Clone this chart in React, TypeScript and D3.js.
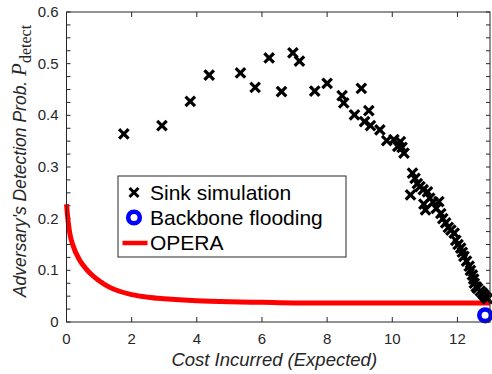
import React from 'react';
import { scaleLinear, line, curveMonotoneX, range } from 'd3';

// sink simulation points (cost, prob)
const sinkCost = [
  1.76, 2.93, 3.80, 4.38, 5.34, 5.79, 6.22, 6.60, 6.95, 7.15, 7.62, 8.00, 8.46, 8.51,
  9.05, 8.84, 9.28, 9.15, 9.33, 9.62, 9.83, 10.05, 10.25, 10.17, 10.36, 10.30,
  10.62, 10.70, 10.77, 10.56, 10.85, 10.95, 11.08, 10.97, 11.02, 11.15, 11.25, 11.43,
  11.35, 11.49, 11.55, 11.64, 11.72, 11.80, 11.90, 11.95, 12.02, 12.10, 12.15, 12.20,
  12.28, 12.36, 12.40, 12.46, 12.50, 12.52, 12.58, 12.62, 12.70, 12.77, 12.82, 12.87, 12.92,
];
const sinkProb = [
  0.364, 0.380, 0.427, 0.478, 0.482, 0.454, 0.511, 0.446, 0.521, 0.505, 0.447, 0.462, 0.438, 0.424,
  0.452, 0.401, 0.409, 0.388, 0.380, 0.372, 0.351, 0.353, 0.349, 0.340, 0.327, 0.338,
  0.288, 0.278, 0.268, 0.246, 0.262, 0.256, 0.252, 0.228, 0.217, 0.240, 0.232, 0.233,
  0.220, 0.210, 0.200, 0.192, 0.183, 0.178, 0.172, 0.158, 0.150, 0.143, 0.135, 0.127,
  0.118, 0.108, 0.100, 0.091, 0.083, 0.075, 0.068, 0.065, 0.060, 0.056, 0.052, 0.048, 0.045,
];

// backbone flooding
const backboneCost = [12.85];
const backboneProb = [0.013];

// OPERA curve
const operaCost = [0, 0.05, 0.1, 0.2, 0.4, 0.6, 0.8, 1.0, 1.3, 1.6, 2.0, 2.5, 3.0, 4.0, 5.0, 6.0, 7.0, 8.0, 10.0, 12.0, 13.0];
const operaProb = [0.228, 0.195, 0.172, 0.148, 0.120, 0.103, 0.090, 0.080, 0.068, 0.060, 0.053, 0.048, 0.045, 0.041, 0.039, 0.038, 0.037, 0.037, 0.037, 0.037, 0.037];

const xTicks = [0, 2, 4, 6, 8, 10, 12];
const yTicks = [0, 0.1, 0.2, 0.3, 0.4, 0.5, 0.6];

const legendLabels = ['Sink simulation', 'Backbone flooding', 'OPERA'];

const W = 492, H = 374;
const m = { left: 66.5, right: 2, top: 12, bottom: 52 };
const axisColor = '#262626';
const sans = '"Liberation Sans", Arial, Helvetica, sans-serif';
const serif = '"Liberation Serif", "Times New Roman", serif';

const Cross = ({ x, y, s, w }: { x: number; y: number; s: number; w: number }) => (
  <g stroke="#000" strokeWidth={w} strokeLinecap="square">
    <line x1={x - s} y1={y - s} x2={x + s} y2={y + s} />
    <line x1={x - s} y1={y + s} x2={x + s} y2={y - s} />
  </g>
);

const App: React.FC = () => {
  const x = scaleLinear().domain([0, 13]).range([m.left, W - m.right]);
  const y = scaleLinear().domain([0, 0.6]).range([H - m.bottom, m.top]);
  const x0 = x.range()[0], x1 = x.range()[1];
  const yb = y.range()[0], yt = y.range()[1];

  const opera = line<number>()
    .x((_, i) => x(operaCost[i]))
    .y(d => y(d))
    .curve(curveMonotoneX);

  const minorY = range(0, 0.6001, 0.025);

  const lx = 118, ly = 176, lw = 228, lh = 81;

  return (
    <svg width={W} height={H} style={{ position: 'absolute', left: 0, top: 0, background: '#fff' }}>
      <rect x={0} y={0} width={W} height={H} fill="#fff" />
      {/* ticks */}
      <g stroke={axisColor} strokeWidth={1}>
        {xTicks.map(t => (
          <g key={'xt' + t}>
            <line x1={x(t)} x2={x(t)} y1={yb} y2={yb - 5} />
            <line x1={x(t)} x2={x(t)} y1={yt} y2={yt + 5} />
          </g>
        ))}
        {minorY.map((t, i) => (
          <g key={'yt' + i}>
            <line x1={x0} x2={x0 + 4} y1={y(t)} y2={y(t)} />
            <line x1={x1} x2={x1 - 4} y1={y(t)} y2={y(t)} />
          </g>
        ))}
      </g>

      {/* OPERA */}
      <path d={opera(operaProb) || ''} fill="none" stroke="#ff0000" strokeWidth={5} />

      {/* sink simulation */}
      {sinkCost.map((c, i) => (
        <Cross key={'s' + i} x={x(c)} y={y(sinkProb[i])} s={3.6} w={3.2} />
      ))}

      {/* backbone flooding */}
      {backboneCost.map((c, i) => (
        <circle key={'b' + i} cx={x(c)} cy={y(backboneProb[i])} r={5.8} fill="none" stroke="#0000ff" strokeWidth={4.6} />
      ))}

      {/* axes box */}
      <rect x={x0} y={yt} width={x1 - x0} height={yb - yt} fill="none" stroke={axisColor} strokeWidth={1} />

      {/* tick labels */}
      <g fill={axisColor} fontFamily={sans} fontSize={15}>
        {xTicks.map(t => (
          <text key={'xl' + t} x={x(t)} y={yb + 22} textAnchor="middle">{t}</text>
        ))}
        {yTicks.map(t => (
          <text key={'yl' + t} x={x0 - 8} y={y(t) + 5} textAnchor="end">{t === 0 ? '0' : t.toFixed(1)}</text>
        ))}
      </g>

      {/* axis labels */}
      <text x={(x0 + x1) / 2 - 4} y={H - 8} textAnchor="middle" fontFamily={sans} fontStyle="italic" fontSize={18.5} fill={axisColor}>
        Cost Incurred (Expected)
      </text>
      <text transform={`translate(26, ${(yt + yb) / 2 - 6}) rotate(-90)`} textAnchor="middle" fill={axisColor} fontSize={17.5}>
        <tspan fontFamily={sans} fontStyle="italic">Adversary's Detection Prob. </tspan>
        <tspan fontFamily={serif} fontStyle="italic" fontSize={21}>P</tspan>
        <tspan fontFamily={serif} fontSize={16} dy={5}>detect</tspan>
      </text>

      {/* legend */}
      <g>
        <rect x={lx} y={ly} width={lw} height={lh} fill="#fff" stroke={axisColor} strokeWidth={1} />
        <Cross x={134} y={ly + 16.5} s={3.4} w={3} />
        <circle cx={134} cy={ly + 41.5} r={5.8} fill="none" stroke="#0000ff" strokeWidth={4.6} />
        <line x1={122.5} x2={147.5} y1={ly + 67} y2={ly + 67} stroke="#ff0000" strokeWidth={4.5} />
        {legendLabels.map((l, i) => (
          <text key={l} x={150} y={ly + 23.5 + i * 25} fontFamily={sans} fontSize={21} fill="#000">{l}</text>
        ))}
      </g>
    </svg>
  );
};

export default App;
